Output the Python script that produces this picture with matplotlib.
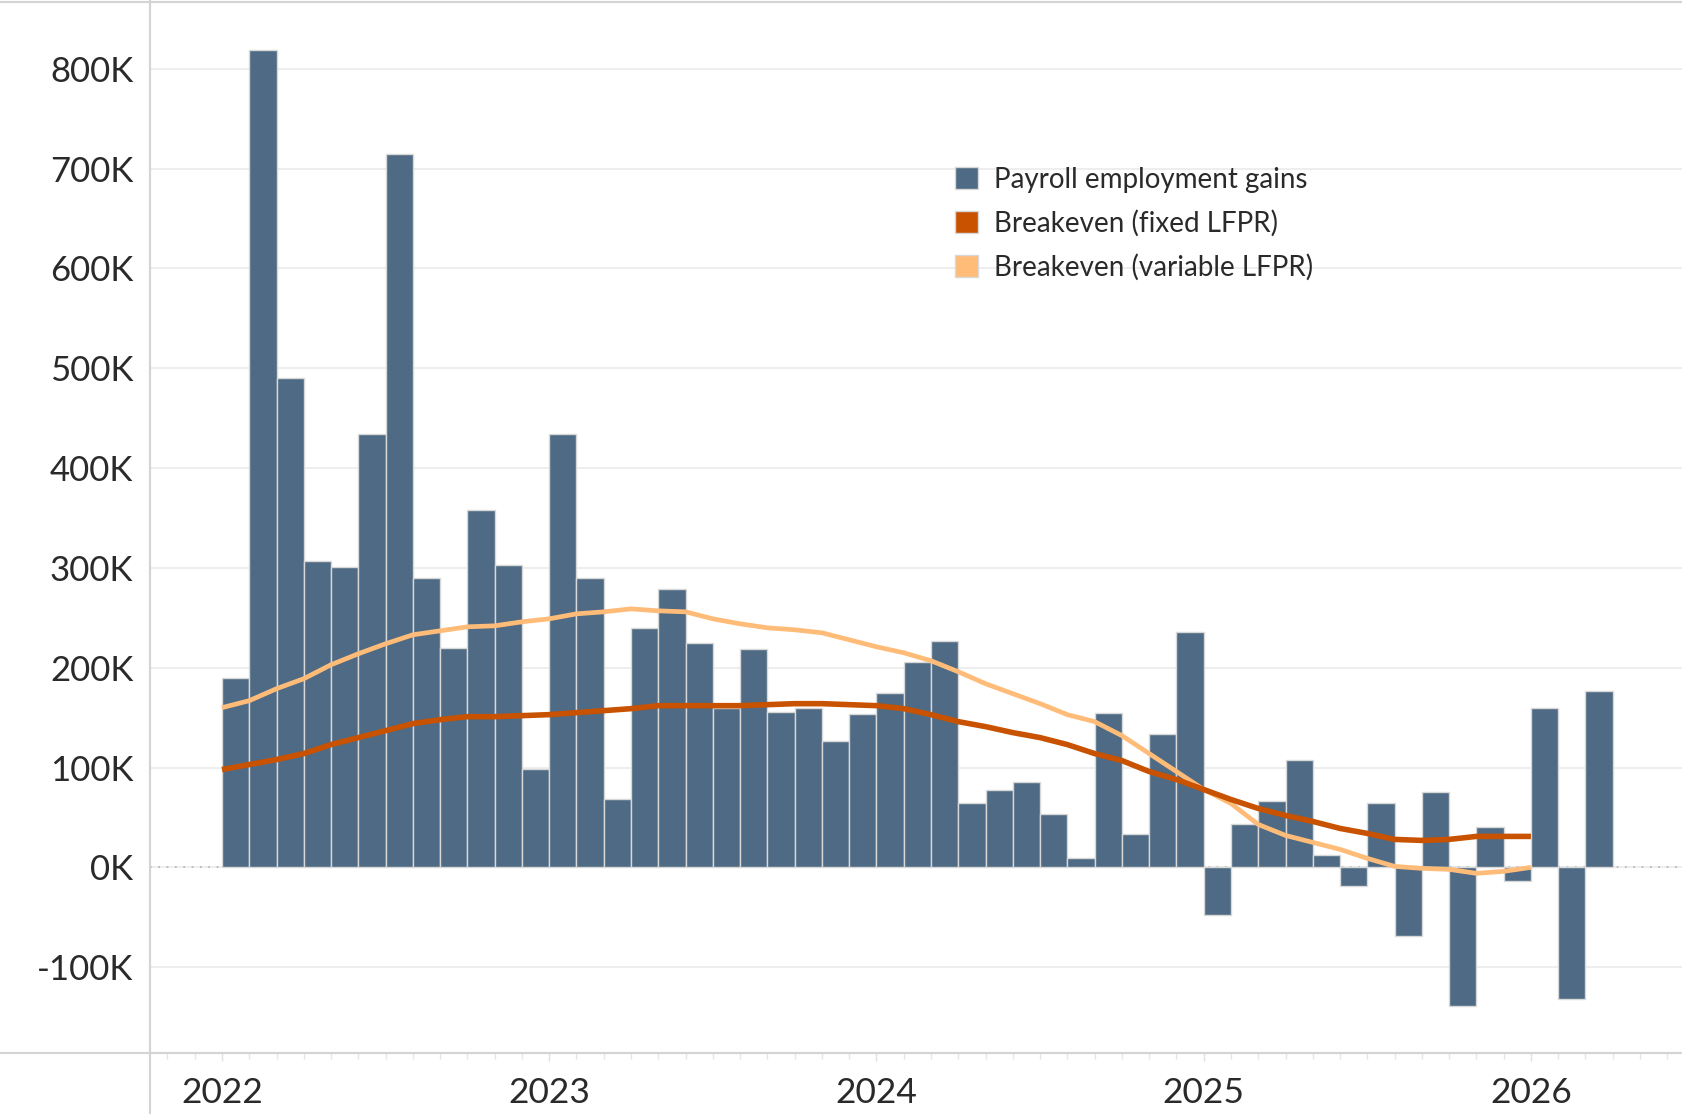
import numpy as np
import matplotlib.pyplot as plt
from matplotlib.patches import Patch
from matplotlib.lines import Line2D

plt.rcParams['font.family'] = ['Lato', 'DejaVu Sans']

# monthly payroll gains, Jan 2022 - Mar 2026 (thousands)
payroll = [190, 819, 490, 307, 301, 434, 715, 290, 220, 358, 303, 99,
           434, 290, 68, 240, 279, 225, 160, 219, 156, 160, 127, 154,
           175, 206, 227, 64, 78, 86, 53, 9, 155, 33, 134, 236,
           -48, 43, 66, 108, 12, -19, 64, -69, 75, -139, 40, -14,
           160, -132, 177]

# breakeven estimates, Jan 2022 - Jan 2026 (thousands)
breakeven_fixed = [98, 103, 108, 114, 123, 130, 137, 144, 148, 151, 151, 152,
                   153, 155, 157, 159, 162, 162, 162, 162, 163, 164, 164, 163,
                   162, 159, 153, 146, 141, 135, 130, 123, 114, 107, 96, 88,
                   78, 68, 59, 52, 46, 39, 34, 28, 27, 28, 31, 31,
                   31]
breakeven_var = [160, 167, 179, 189, 203, 214, 224, 233, 237, 241, 242, 246,
                 249, 254, 256, 259, 257, 256, 249, 244, 240, 238, 235, 228,
                 221, 215, 207, 196, 184, 174, 164, 153, 146, 132, 114, 96,
                 78, 64, 43, 32, 25, 18, 9, 1, -1, -2, -6, -4,
                 0]

years = ['2022', '2023', '2024', '2025', '2026']

bar_color = '#4E6A84'
fixed_color = '#C85200'
var_color = '#FFBC79'
grid_color = '#EBEBEB'
axis_color = '#D4D4D4'

fig = plt.figure(figsize=(16.82, 11.14), dpi=100)
ax = fig.add_axes([150 / 1682, 1 - 1053 / 1114, 1 - 150 / 1682, (1053 - 2) / 1114])

months = np.arange(len(payroll))
ax.bar(months, np.array(payroll) * 1000, width=1.0, align='edge',
       color=bar_color, edgecolor='#D8D8D8', linewidth=1.0, zorder=3)

line_x = np.arange(len(breakeven_fixed))
ax.plot(line_x, np.array(breakeven_var) * 1000, color=var_color, lw=3.4,
        zorder=4, solid_capstyle='butt')
ax.plot(line_x, np.array(breakeven_fixed) * 1000, color=fixed_color, lw=4.0,
        zorder=5, solid_capstyle='butt')

ax.axhline(0, color='#B0B0B0', lw=1.2, linestyle=(0, (1, 4)), zorder=1)

ax.set_xlim(-2.64, 53.54)
ax.set_ylim(-186000, 867000)

yt = np.arange(-100000, 800001, 100000)
ax.set_yticks(yt)
ax.set_yticklabels([f'{int(v / 1000)}K' for v in yt])
ax.yaxis.grid(True, color=grid_color, lw=1.2, zorder=0)
ax.set_axisbelow(True)

ax.set_xticks([0, 12, 24, 36, 48])
ax.set_xticklabels(years)
ax.set_xticks(np.arange(-2, 54), minor=True)

ax.tick_params(axis='y', length=0, pad=12, labelsize=25, labelcolor='#2A2A2A')
ax.tick_params(axis='x', which='major', length=6, width=1, color='#E0E0E0',
               pad=11, labelsize=25.5, labelcolor='#2A2A2A')
ax.tick_params(axis='x', which='minor', length=4, width=1, color='#E6E6E6')

ax.spines['right'].set_visible(False)
for s in ['left', 'bottom', 'top']:
    ax.spines[s].set_color(axis_color)
    ax.spines[s].set_linewidth(1.5)

# frame lines that run past the plot area, as in the source
bottom_y = 1 - 1053 / 1114
fig.add_artist(Line2D([0, 1], [bottom_y, bottom_y], color=axis_color, lw=1.5))
fig.add_artist(Line2D([0, 1], [1 - 2 / 1114, 1 - 2 / 1114], color=axis_color, lw=1.5))
fig.add_artist(Line2D([150 / 1682, 150 / 1682], [0, 1], color=axis_color, lw=1.5))

handles = [Patch(facecolor=bar_color, edgecolor='#D8D8D8'),
           Patch(facecolor=fixed_color, edgecolor='#D8D8D8'),
           Patch(facecolor=var_color, edgecolor='#D8D8D8')]
labels = ['Payroll employment gains', 'Breakeven (fixed LFPR)',
          'Breakeven (variable LFPR)']
leg = ax.legend(handles, labels, loc='upper left', bbox_to_anchor=(0.518, 0.854),
                frameon=False, fontsize=20, handlelength=0.85, handleheight=0.85,
                handletextpad=0.55, labelspacing=0.62, borderaxespad=0)
for t in leg.get_texts():
    t.set_color('#2A2A2A')

fig.savefig('out.png', dpi=100)
